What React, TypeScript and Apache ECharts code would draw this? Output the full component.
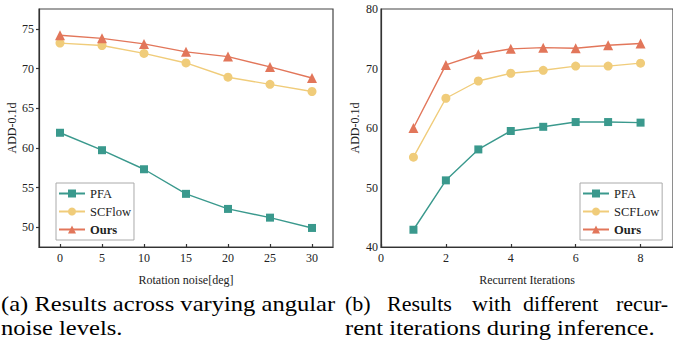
import React, { useEffect, useRef } from "react";
import * as echarts from "echarts";

// Chart (a): rotation noise
const noiseX = [0, 5, 10, 15, 20, 25, 30];
const noisePFA = [61.9, 59.7, 57.3, 54.2, 52.3, 51.2, 49.9];
const noiseSCFlow = [73.2, 72.9, 71.9, 70.7, 68.9, 68.0, 67.1];
const noiseOurs = [74.2, 73.8, 73.1, 72.1, 71.5, 70.2, 68.8];
const noiseXTicks = [0, 5, 10, 15, 20, 25, 30];
const noiseYTicks = [50, 55, 60, 65, 70, 75];

// Chart (b): recurrent iterations
const iterX = [1, 2, 3, 4, 5, 6, 7, 8];
const iterPFA = [42.9, 51.2, 56.4, 59.5, 60.2, 61.0, 61.0, 60.9];
const iterSCFLow = [55.1, 65.0, 67.9, 69.2, 69.7, 70.4, 70.4, 70.9];
const iterOurs = [60.0, 70.6, 72.4, 73.3, 73.5, 73.4, 73.9, 74.2];
const iterXTicks = [0, 2, 4, 6, 8];

const captionA1 = "(a) Results across varying angular";
const captionA2 = "noise levels.";
const captionB1Words = ["(b)", "Results", "with", "different", "recur-"];
const captionB2 = "rent iterations during inference.";

const FONT = "Liberation Serif";
const C_PFA = "#3a998d";
const C_SCF = "#f0cc7a";
const C_OURS = "#e2765a";

const zip = (xs: number[], ys: number[]) => xs.map((x, i) => [x, ys[i]]);

export default function App() {
  const ref = useRef<HTMLDivElement>(null);
  useEffect(() => {
    document.body.style.margin = "0";
    const chart = echarts.init(ref.current!, null, { renderer: "svg" });
    const axisLineStyle = { color: "#333", width: 1.2 };
    const labelStyle = { fontFamily: FONT, fontSize: 12, color: "#222" };
    const nameStyle = { fontFamily: FONT, fontSize: 12, color: "#222" };
    const mkSeries = (name: string, data: number[][], color: string, symbol: string, size: number, idx: number) => ({
      type: "line",
      name,
      xAxisIndex: idx,
      yAxisIndex: idx,
      data,
      symbol,
      symbolSize: size,
      lineStyle: { color, width: 1.4 },
      itemStyle: { color },
    });
    const legendBase = {
      orient: "vertical",
      itemWidth: 26,
      itemHeight: 10,
      itemGap: 5,
      padding: [4, 3, 4, 2],
      borderColor: "#aaa",
      borderWidth: 1,
      backgroundColor: "#fff",
      textStyle: { fontFamily: FONT, fontSize: 12.5, color: "#222", rich: { b: { fontFamily: FONT, fontSize: 12.5, fontWeight: "bold", color: "#222" } } },
      formatter: (n: string) => (n === "Ours" ? "{b|Ours}" : n),
      selectedMode: false,
    };
    const gridBase = { show: true, borderColor: "#444", borderWidth: 1.2, containLabel: false };
    const cap = (text: string, x: number, y: number, sx = 1.17) => ({
      type: "text",
      x,
      y,
      scaleX: sx,
      style: { text, fontFamily: FONT, fontSize: 21, fill: "#000", verticalAlign: "middle" },
    });
    const wordX = [345, 387, 472, 523, 616];
    chart.setOption({
      animation: false,
      textStyle: { fontFamily: FONT },
      grid: [
        { ...gridBase, left: 39, top: 9, width: 294, height: 238 },
        { ...gridBase, left: 381, top: 9, width: 294, height: 238 },
      ],
      xAxis: [
        {
          type: "value",
          gridIndex: 0,
          min: -2.5,
          max: 32.5,
          splitLine: { show: false },
          axisLine: { onZero: false, lineStyle: axisLineStyle },
          axisTick: { inside: true, length: 3, customValues: noiseXTicks, lineStyle: axisLineStyle },
          axisLabel: { ...labelStyle, margin: 5, customValues: noiseXTicks },
          name: "Rotation noise[deg]",
          nameLocation: "middle",
          nameGap: 27,
          nameTextStyle: nameStyle,
        },
        {
          type: "value",
          gridIndex: 1,
          min: 0,
          max: 9,
          splitLine: { show: false },
          axisLine: { onZero: false, lineStyle: axisLineStyle },
          axisTick: { inside: true, length: 3, customValues: iterXTicks, lineStyle: axisLineStyle },
          axisLabel: { ...labelStyle, margin: 5, customValues: iterXTicks },
          name: "Recurrent Iterations",
          nameLocation: "middle",
          nameGap: 27,
          nameTextStyle: nameStyle,
        },
      ],
      yAxis: [
        {
          type: "value",
          gridIndex: 0,
          min: 47.5,
          max: 77.5,
          splitLine: { show: false },
          axisLine: { onZero: false, lineStyle: axisLineStyle },
          axisTick: { inside: false, length: 3, customValues: noiseYTicks, lineStyle: axisLineStyle },
          axisLabel: { ...labelStyle, margin: 5, customValues: noiseYTicks },
          name: "ADD-0.1d",
          nameLocation: "middle",
          nameGap: 20,
          nameTextStyle: nameStyle,
        },
        {
          type: "value",
          gridIndex: 1,
          min: 40,
          max: 80,
          interval: 10,
          splitLine: { show: false },
          axisLine: { onZero: false, lineStyle: axisLineStyle },
          axisTick: { show: false },
          axisLabel: { ...labelStyle, margin: 3 },
          name: "ADD-0.1d",
          nameLocation: "middle",
          nameGap: 20,
          nameTextStyle: nameStyle,
        },
      ],
      legend: [
        { ...legendBase, left: 56, top: 183, data: ["PFA", "SCFlow", "Ours"] },
        { ...legendBase, left: 580, top: 183, data: ["PFA", "SCFLow", "Ours"] },
      ],
      series: [
        mkSeries("PFA", zip(noiseX, noisePFA), C_PFA, "rect", 8, 0),
        mkSeries("SCFlow", zip(noiseX, noiseSCFlow), C_SCF, "circle", 9, 0),
        mkSeries("Ours", zip(noiseX, noiseOurs), C_OURS, "triangle", 10, 0),
        mkSeries("PFA", zip(iterX, iterPFA), C_PFA, "rect", 8, 1),
        mkSeries("SCFLow", zip(iterX, iterSCFLow), C_SCF, "circle", 9, 1),
        mkSeries("Ours", zip(iterX, iterOurs), C_OURS, "triangle", 10, 1),
      ],
      graphic: [
        cap(captionA1, 1, 304),
        cap(captionA2, 1, 328),
        ...captionB1Words.map((w, i) => cap(w, wordX[i], 304, 1.05)),
        cap(captionB2, 345, 328),
      ],
    });
    return () => chart.dispose();
  }, []);
  return <div ref={ref} style={{ width: 673, height: 349 }} />;
}
